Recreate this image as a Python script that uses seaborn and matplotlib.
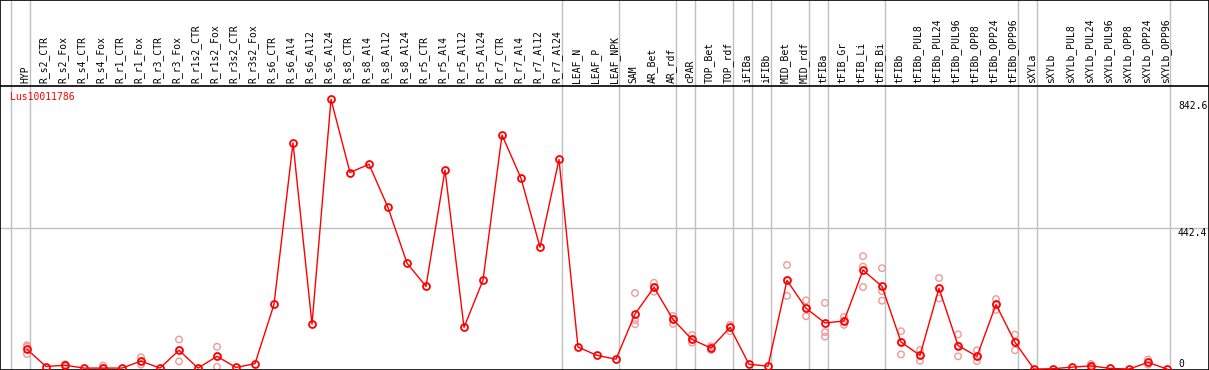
import numpy as np
import pandas as pd
import matplotlib
matplotlib.use("Agg")
import matplotlib.pyplot as plt
import matplotlib.transforms as mtransforms
import seaborn as sns

nan = np.nan

samples = ['HYP', 'R_s2_CTR', 'R_s2_Fox', 'R_s4_CTR', 'R_s4_Fox', 'R_r1_CTR', 'R_r1_Fox',
           'R_r3_CTR', 'R_r3_Fox', 'R_r1s2_CTR', 'R_r1s2_Fox', 'R_r3s2_CTR', 'R_r3s2_Fox',
           'R_s6_CTR', 'R_s6_Al4', 'R_s6_Al12', 'R_s6_Al24', 'R_s8_CTR', 'R_s8_Al4',
           'R_s8_Al12', 'R_s8_Al24', 'R_r5_CTR', 'R_r5_Al4', 'R_r5_Al12', 'R_r5_Al24',
           'R_r7_CTR', 'R_r7_Al4', 'R_r7_Al12', 'R_r7_Al24', 'LEAF_N', 'LEAF_P', 'LEAF_NPK',
           'SAM', 'AR_Bet', 'AR_rdf', 'cPAR', 'TOP_Bet', 'TOP_rdf', 'iFIBa', 'iFIBb',
           'MID_Bet', 'MID_rdf', 'tFIBa', 'tFIB_Gr', 'tFIB_Li', 'tFIB_Bi', 'tFIBb',
           'tFIBb_PUL8', 'tFIBb_PUL24', 'tFIBb_PUL96', 'tFIBb_OPP8', 'tFIBb_OPP24', 'tFIBb_OPP96',
           'sXYLa', 'sXYLb', 'sXYLb_PUL8', 'sXYLb_PUL24', 'sXYLb_PUL96', 'sXYLb_OPP8',
           'sXYLb_OPP24', 'sXYLb_OPP96']

mean_expr = [62, 8, 12, 3, 3, 3, 25, 3, 59, 3, 40, 5, 17,
             203, 711, 141, 848, 618, 644, 508, 333, 260, 626, 131, 279,
             736, 600, 383, 659, 69, 43, 31,
             173, 257, 156, 93, 66, 131, 15, 9,
             279, 191, 145, 151, 311, 260, 85,
             43, 254, 74, 40, 203, 84,
             0, 1, 6, 10, 2, 0, 21, 0]

rep1 = [75, nan, 15, nan, 11, nan, 37, nan, 93, nan, 70, nan, nan,
        nan, nan, nan, nan, nan, nan, nan, nan, nan, nan, nan, nan,
        nan, nan, nan, nan, nan, nan, nan,
        239, 271, 167, 107, 72, 139, nan, nan,
        327, 216, 208, 164, 355, 317, 119,
        60, 286, 109, 59, 220, 108,
        nan, nan, nan, 16, nan, nan, 30, nan]

rep2 = [70, nan, 12, nan, 3, nan, 24, nan, 59, nan, 40, nan, nan,
        nan, nan, nan, nan, nan, nan, nan, nan, nan, nan, nan, nan,
        nan, nan, nan, nan, nan, nan, nan,
        154, 257, 156, 93, 66, 131, nan, nan,
        279, 191, 116, 151, 322, 245, 85,
        43, 254, 74, 40, 203, 84,
        nan, nan, nan, 10, nan, nan, 21, nan]

rep3 = [47, nan, 10, nan, 3, nan, 14, nan, 24, nan, 7, nan, nan,
        nan, nan, nan, nan, nan, nan, nan, nan, nan, nan, nan, nan,
        nan, nan, nan, nan, nan, nan, nan,
        141, 243, 142, 83, 60, 119, nan, nan,
        230, 166, 102, 139, 258, 215, 46,
        26, 222, 40, 25, 186, 59,
        nan, nan, nan, 4, nan, nan, 14, nan]

# group separators sit just right of these sample indices
group_ends = [-1, 0, 28, 31, 34, 35, 37, 38, 39, 41, 42, 45, 52, 53, 60]
grid_value = 442.4
scale_labels = [842.6, 442.4, 0]
gene_id = 'Lus10011786'

W, H = 1209, 370
head_px = 86
x = np.arange(len(samples))

fig = plt.figure(figsize=(W / 100, H / 100), dpi=100)
ax_head = fig.add_axes([0, 1 - head_px / H, 1, head_px / H])
ax = fig.add_axes([0, 0, 1, 1 - head_px / H], sharex=ax_head)

xlim = (-27 / 19, (W - 27) / 19)
gray = '#c0c0c0'
mono = 'DejaVu Sans Mono'

for a in (ax_head, ax):
    a.set_facecolor('white')
    for s in a.spines.values():
        s.set_color('black')
        s.set_linewidth(1.2)
    for g in group_ends:
        a.axvline(g + 0.18, color=gray, lw=1, zorder=0)
    a.tick_params(left=False, bottom=False, top=False, right=False,
                  labelleft=False, labelbottom=False)
ax_head.spines['bottom'].set_visible(False)
ax_head.set_ylim(0, 1)

ax.axhline(grid_value, color=gray, lw=1, zorder=0)

# replicate points
reps = pd.DataFrame({'idx': np.tile(x, 3), 'value': rep1 + rep2 + rep3}).dropna()
sns.scatterplot(data=reps, x='idx', y='value', ax=ax, marker='o', s=22,
                facecolor='none', edgecolor='#ee9a9a', linewidth=1.0,
                zorder=2, clip_on=False, legend=False)

# mean line
sns.lineplot(x=x, y=mean_expr, ax=ax, color='red', lw=1.0, marker='o',
             markersize=5, markerfacecolor='none', markeredgecolor='red',
             markeredgewidth=1.3, zorder=3, clip_on=False)

ax.set_xlim(*xlim)
ax.set_ylim(-3, 890)
ax.set_xlabel('')
ax.set_ylabel('')

# sample labels in the header
trans = mtransforms.blended_transform_factory(ax_head.transData, ax_head.transAxes)
for i, name in enumerate(samples):
    ax_head.text(i - 0.1, 0.035, name, rotation=90, ha='center', va='bottom',
                 fontsize=7, family=mono, transform=trans)

# value labels on the right
xr = (1178 - 27) / 19
for v in scale_labels:
    ax.text(xr, v, f'{v:g}', ha='left', va='top' if v > 0 else 'bottom',
            fontsize=7, family=mono, clip_on=True)

fig.text(10 / W, 1 - 97 / H, gene_id, color='red', fontsize=7, family=mono,
         ha='left', va='center')

fig.savefig('out.png', dpi=100)
